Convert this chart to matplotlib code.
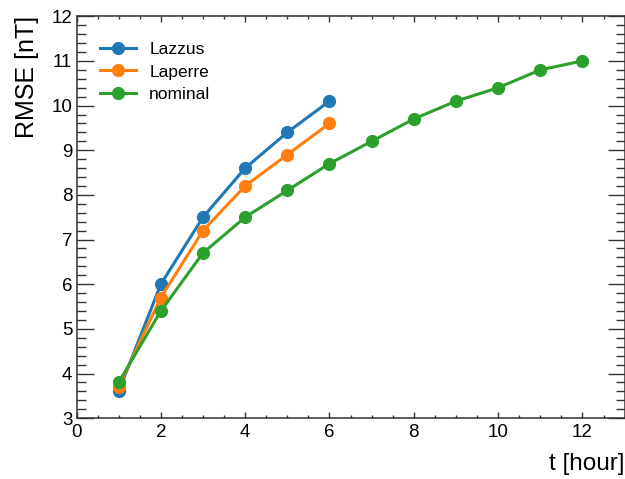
import matplotlib
matplotlib.use("Agg")
import matplotlib.pyplot as plt
from matplotlib.ticker import MultipleLocator

plt.rcParams['font.family'] = ['Liberation Sans', 'DejaVu Sans']

# RMSE vs prediction horizon
t_short = [1, 2, 3, 4, 5, 6]
rmse_lazzus = [3.6, 6.0, 7.5, 8.6, 9.4, 10.1]
rmse_laperre = [3.7, 5.7, 7.2, 8.2, 8.9, 9.6]
t_nominal = [1, 2, 3, 4, 5, 6, 7, 8, 9, 10, 11, 12]
rmse_nominal = [3.8, 5.4, 6.7, 7.5, 8.1, 8.7, 9.2, 9.7, 10.1, 10.4, 10.8, 11.0]

fig = plt.figure(figsize=(6.25, 4.79), dpi=100)
ax = fig.add_axes([0.1224, 0.127, 0.877, 0.839])

style = dict(lw=2.2, marker='o', ms=8.5)
ax.plot(t_short, rmse_lazzus, color='#1f77b4', label='Lazzus', **style)
ax.plot(t_short, rmse_laperre, color='#ff7f0e', label='Laperre', **style)
ax.plot(t_nominal, rmse_nominal, color='#2ca02c', label='nominal', **style)

ax.set_xlim(0, 13)
ax.set_ylim(3, 12)
ax.xaxis.set_major_locator(MultipleLocator(2))
ax.xaxis.set_minor_locator(MultipleLocator(0.5))
ax.yaxis.set_major_locator(MultipleLocator(1))
ax.yaxis.set_minor_locator(MultipleLocator(0.2))

edge = '#333333'
for sp in ax.spines.values():
    sp.set_color(edge)
    sp.set_linewidth(1.1)
ax.tick_params(which='both', direction='in', top=True, right=True, colors=edge,
               labelcolor='black', labelsize=13.5, width=1.0)
ax.tick_params(axis='x', which='major', length=4.5, pad=4)
ax.tick_params(axis='x', which='minor', length=2.3)
ax.tick_params(axis='y', which='major', length=12, pad=3)
ax.tick_params(axis='y', which='minor', length=6.5)

ax.set_xlabel('t [hour]', fontsize=17.5, loc='right', labelpad=9)
ax.set_ylabel('RMSE [nT]', fontsize=18, loc='top', labelpad=9)

ax.legend(loc='upper left', frameon=False, fontsize=12.5,
          bbox_to_anchor=(0.014, 0.975), handlelength=2.1,
          handletextpad=0.75, labelspacing=0.42)

fig.savefig('out.png', dpi=100)
